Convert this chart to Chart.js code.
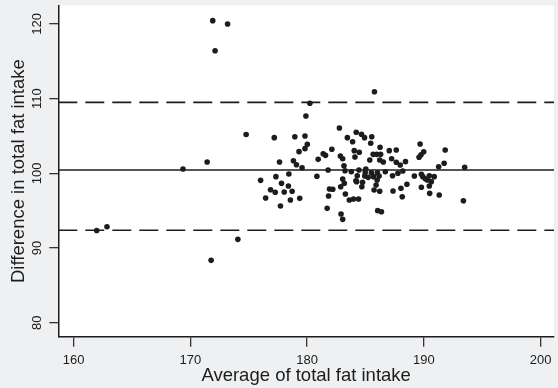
<!DOCTYPE html>
<html><head><meta charset="utf-8">
<script src="https://cdn.jsdelivr.net/npm/chart.js@4/dist/chart.umd.min.js"></script>
<style>html,body{margin:0;padding:0;background:#eff0f2;} #wrap{width:558px;height:388px;}</style>
</head><body><div id="wrap"><canvas id="c" width="558" height="388"></canvas></div>
<script>
// Average of total fat intake (x) and difference in total fat intake (y)
const avgIntake = [
  171.92,173.19,172.12,185.77,180.24,179.9,174.78,182.77,171.44,169.37,161.98,162.86,171.78,174.07,193.39,193.5,
  177.19,178.95,179.82,180.02,179.82,179.31,181.38,181.58,180.95,177.64,178.83,179.09,179.57,178.44,177.33,180.84,
  176.02,177.81,178.4,176.87,177.27,178.04,178.72,176.45,178.57,179.37,177.72,
  183.45,184.21,184.66,184.92,185.54,183.9,185.45,182.12,184.04,184.47,184.1,182.85,183.05,186.25,185.66,185.97,186.3,
  185.37,186.22,186.53,187.04,187.64,187.24,187.64,187.98,181.8,183.16,183.25,183.79,184.44,185.03,185.51,186.02,
  186.7,187.32,187.78,188.2,184.3,184.94,185.23,185.68,183.05,184.18,184.75,186.0,183.19,182.88,185.91,181.92,182.2,
  185.74,186.22,187.36,188.04,181.84,183.28,183.62,183.98,184.41,188.15,181.72,182.91,183.05,186.05,186.37,
  189.68,189.99,189.76,189.59,191.83,188.43,191.74,191.27,189.19,189.79,189.91,190.13,190.3,190.47,190.89,190.64,
  190.47,188.55,189.79,190.5,191.32,
  186.17,184.69,184.24,184.98
];
const diffIntake = [
  120.43,119.99,116.4,110.92,109.37,107.67,105.2,106.06,101.51,100.58,92.34,92.85,88.35,91.16,96.33,100.8,
  104.77,104.9,104.99,103.88,103.3,102.9,102.62,102.4,101.87,101.51,101.69,101.15,100.75,99.9,99.55,99.6,
  99.06,98.66,98.3,97.8,97.46,97.5,97.59,96.69,96.43,96.65,95.62,
  104.77,105.49,105.22,104.77,104.9,104.23,104.02,103.21,103.03,102.81,102.18,102.32,101.95,103.48,102.54,102.54,102.54,
  101.78,101.78,101.51,103.03,103.12,101.95,101.47,101.11,100.44,101.02,100.35,100.21,100.44,100.58,100.08,100.08,
  100.21,99.68,100.0,100.31,99.68,99.64,99.46,99.55,99.24,99.01,98.8,99.1,98.66,98.2,98.43,97.9,97.86,
  97.76,97.59,97.63,97.99,96.96,97.23,96.43,96.56,96.56,96.87,95.31,94.55,93.84,95.0,94.86,
  103.92,102.89,102.49,102.14,103.12,101.56,101.34,100.88,99.64,99.87,99.55,99.28,99.1,99.68,99.55,98.88,
  98.3,98.53,98.13,97.32,97.1,
  99.64,98.2,98.88,100.1
];
const meanDiff = 100.44;
const upperLimit = 109.5;
const lowerLimit = 92.37;
const xTickValues = [160, 170, 180, 190, 200];
const yTickValues = [80, 90, 100, 110, 120];
const xRange = [158.69, 201.15];
const yRange = [78.13, 122.46];

const FONT = '"Liberation Sans", Arial, Helvetica, sans-serif';
const INK = '#1c1c1c';

const points = avgIntake.map((x, i) => ({ x: x, y: diffIntake[i] }));
const hLine = v => [{ x: xRange[0], y: v }, { x: xRange[1], y: v }];

const bgPlugin = {
  id: 'bg',
  beforeDraw(chart) {
    const { ctx, chartArea: a } = chart;
    ctx.save();
    ctx.fillStyle = '#eff0f2';
    ctx.fillRect(0, 0, chart.width, chart.height);
    ctx.fillStyle = '#ffffff';
    ctx.fillRect(a.left, a.top, a.right - a.left, a.bottom - a.top);
    ctx.restore();
  }
};
const yLabelPlugin = {
  id: 'ylabels',
  afterDraw(chart) {
    const { ctx, scales } = chart;
    ctx.save();
    ctx.fillStyle = INK;
    ctx.font = '13px ' + FONT;
    ctx.textAlign = 'center';
    ctx.textBaseline = 'middle';
    yTickValues.forEach(v => {
      const y = scales.y.getPixelForValue(v);
      ctx.save();
      ctx.translate(37.5, y);
      ctx.rotate(-Math.PI / 2);
      ctx.fillText(String(v), 0, 0);
      ctx.restore();
    });
    ctx.restore();
  }
};

new Chart(document.getElementById('c'), {
  type: 'scatter',
  data: {
    datasets: [
      { type: 'line', data: hLine(meanDiff), borderColor: INK, borderWidth: 1.6, pointRadius: 0, fill: false },
      { type: 'line', data: hLine(upperLimit), borderColor: INK, borderWidth: 1.6, borderDash: [19, 8], pointRadius: 0, fill: false },
      { type: 'line', data: hLine(lowerLimit), borderColor: INK, borderWidth: 1.6, borderDash: [19, 8], pointRadius: 0, fill: false },
      { data: points, pointRadius: 2.8, pointBackgroundColor: INK, pointBorderColor: INK, pointBorderWidth: 0 }
    ]
  },
  options: {
    responsive: false,
    animation: false,
    devicePixelRatio: 1,
    layout: { padding: { top: 5.5, right: 0, left: 0, bottom: 0 } },
    plugins: { legend: { display: false }, tooltip: { enabled: false } },
    scales: {
      x: {
        type: 'linear', min: xRange[0], max: xRange[1],
        afterBuildTicks: s => { s.ticks = xTickValues.map(v => ({ value: v })); },
        afterFit: s => { s.height = 51.3; },
        grid: { drawOnChartArea: false, drawTicks: true, tickLength: 10, color: '#333', lineWidth: 1.3 },
        border: { display: true, color: INK, width: 1.5 },
        ticks: { color: INK, font: { family: FONT, size: 13 }, padding: 6, maxRotation: 0, minRotation: 0, autoSkip: false },
        title: { display: true, text: 'Average of total fat intake', color: INK, font: { family: FONT, size: 18.5 }, padding: { top: 0, bottom: 0.5 } }
      },
      y: {
        type: 'linear', min: yRange[0], max: yRange[1],
        afterBuildTicks: s => { s.ticks = yTickValues.map(v => ({ value: v })); },
        afterFit: s => { s.width = 58.3; },
        grid: { drawOnChartArea: false, drawTicks: true, tickLength: 9, color: '#333', lineWidth: 1.3 },
        border: { display: true, color: INK, width: 1.5 },
        ticks: { display: false },
        title: { display: true, text: 'Difference in total fat intake', color: INK, font: { family: FONT, size: 18.5 }, padding: { top: 7.5, bottom: 0 } }
      }
    }
  },
  plugins: [bgPlugin, yLabelPlugin]
});
</script>
</body></html>
